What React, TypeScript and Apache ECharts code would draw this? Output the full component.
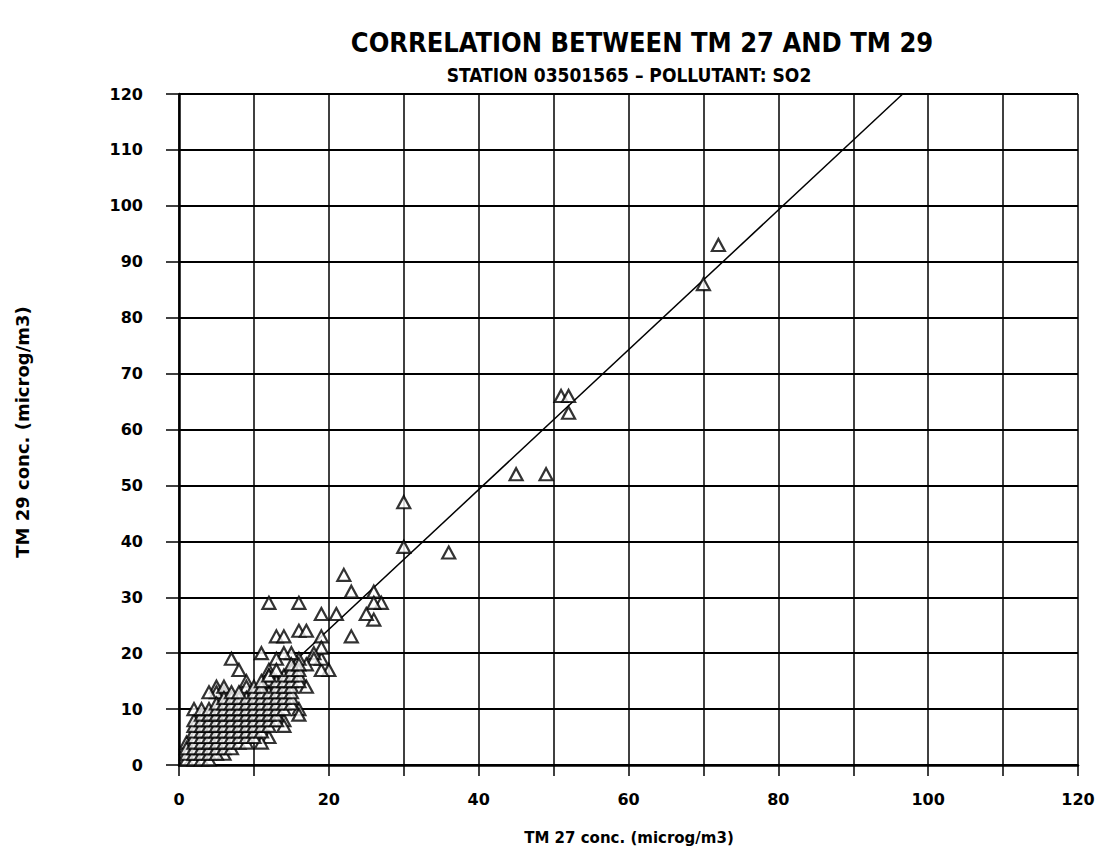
import React, { useEffect, useRef } from "react";
import * as echarts from "echarts";

// TM 27 concentrations (x) and TM 29 concentrations (y), microg/m3
const tm27: number[] = [
  72, 70, 51, 52, 52, 45, 49, 36, 30, 30, 27, 26, 26, 26, 25, 23, 22, 23, 21, 19,
  12, 16, 13, 14, 16, 17, 19, 20, 19, 19, 19, 18, 18, 17, 17, 16, 15, 14, 13, 11,
  7, 8, 12, 12, 9, 9, 5, 6, 16, 16, 14, 14, 12, 11, 6, 1, 12, 5, 4, 6,
  // y=1
  1, 2, 3, 4,
  // y=2
  1, 2, 3, 4, 5,
  // y=3
  1, 2, 3, 4, 5, 6, 7,
  // y=4
  2, 3, 4, 5, 6, 7, 8, 9,
  // y=5
  2, 3, 4, 5, 6, 7, 8, 9, 10,
  // y=6
  2, 3, 4, 5, 6, 7, 8, 9, 10, 11,
  // y=7
  2, 3, 4, 5, 6, 7, 8, 9, 10, 11, 12,
  // y=8
  2, 3, 4, 5, 6, 7, 8, 9, 10, 11, 12, 13,
  // y=9
  3, 4, 5, 6, 7, 8, 9, 10, 11, 12, 13,
  // y=10
  2, 3, 4, 5, 6, 7, 8, 9, 10, 11, 12, 13, 14,
  // y=11
  5, 6, 7, 8, 9, 10, 11, 12, 13, 14, 15,
  // y=12
  6, 7, 8, 9, 10, 11, 12, 13, 14, 15,
  // y=13
  7, 8, 10, 11, 12, 13, 14, 15,
  // y=14
  10, 11, 13, 14, 15,
  // y=15
  11, 13, 14, 15, 16,
  // y=16
  12, 14, 15, 16,
  // y=17
  13, 15, 16,
  // y=18
  15, 16,
];

const tm29: number[] = [
  93, 86, 66, 66, 63, 52, 52, 38, 47, 39, 29, 31, 29, 26, 27, 31, 34, 23, 27, 27,
  29, 29, 23, 23, 24, 24, 23, 17, 17, 19, 21, 20, 19, 18, 14, 19, 20, 20, 19, 20,
  19, 17, 17, 15, 15, 14, 14, 13, 10, 9, 8, 7, 5, 4, 2, 4, 16, 13, 13, 14,
  1, 1, 1, 1,
  2, 2, 2, 2, 2,
  3, 3, 3, 3, 3, 3, 3,
  4, 4, 4, 4, 4, 4, 4, 4,
  5, 5, 5, 5, 5, 5, 5, 5, 5,
  6, 6, 6, 6, 6, 6, 6, 6, 6, 6,
  7, 7, 7, 7, 7, 7, 7, 7, 7, 7, 7,
  8, 8, 8, 8, 8, 8, 8, 8, 8, 8, 8, 8,
  9, 9, 9, 9, 9, 9, 9, 9, 9, 9, 9,
  10, 10, 10, 10, 10, 10, 10, 10, 10, 10, 10, 10, 10,
  11, 11, 11, 11, 11, 11, 11, 11, 11, 11, 11,
  12, 12, 12, 12, 12, 12, 12, 12, 12, 12,
  13, 13, 13, 13, 13, 13, 13, 13,
  14, 14, 14, 14, 14,
  15, 15, 15, 15, 15,
  16, 16, 16, 16,
  17, 17, 17,
  18, 18,
];

// Regression line end points (TM 27, TM 29)
const fitX: number[] = [0.6, 96.6];
const fitY: number[] = [0, 120];

// Axis ranges and tick labels
const xLabelValues: number[] = [0, 20, 40, 60, 80, 100, 120];
const axisMin = 0;
const axisMax = 120;
const gridStep = 10;

const titleText = "CORRELATION BETWEEN TM 27 AND TM 29";
const subtitleText = "STATION 03501565 \u2013 POLLUTANT: SO2";
const xName = "TM 27 conc. (microg/m3)";
const yName = "TM 29 conc. (microg/m3)";

const FONT = '"DejaVu Sans", "Noto Sans", sans-serif';
const CFONT = '"DejaVu Sans Condensed", "Liberation Sans Narrow", "DejaVu Sans", sans-serif';

export default function App() {
  const ref = useRef<HTMLDivElement>(null);

  useEffect(() => {
    if (!ref.current) return;
    const chart = echarts.init(ref.current, undefined, { renderer: "svg" });
    const points = tm27.map((x, i) => [x, tm29[i]]);
    const fit = fitX.map((x, i) => [x, fitY[i]]);

    chart.setOption({
      animation: false,
      backgroundColor: "#fff",
      grid: { left: 179, right: 27, top: 94, bottom: 92 },
      xAxis: {
        type: "value",
        min: axisMin,
        max: axisMax,
        interval: gridStep,
        axisLine: { show: true, lineStyle: { color: "#000", width: 2.5 } },
        axisTick: { show: true, length: 11, lineStyle: { color: "#000", width: 1.5 } },
        splitLine: { show: true, lineStyle: { color: "#000", width: 1.5 } },
        axisLabel: {
          margin: 26,
          color: "#000",
          fontFamily: FONT,
          fontWeight: "bold",
          fontSize: 16,
          formatter: (v: number) => (xLabelValues.includes(v) ? String(v) : ""),
        },
      },
      yAxis: {
        type: "value",
        min: axisMin,
        max: axisMax,
        interval: gridStep,
        axisLine: { show: true, lineStyle: { color: "#000", width: 2.5 } },
        axisTick: { show: true, length: 13, lineStyle: { color: "#000", width: 1.5 } },
        splitLine: { show: true, lineStyle: { color: "#000", width: 2 } },
        axisLabel: {
          margin: 36,
          color: "#000",
          fontFamily: FONT,
          fontWeight: "bold",
          fontSize: 16,
        },
      },
      graphic: [
        {
          type: "text",
          x: 642,
          y: 42,
          style: {
            text: titleText,
            fill: "#000",
            font: `bold 27px ${CFONT}`,
            textAlign: "center",
            textVerticalAlign: "middle",
          },
        },
        {
          type: "text",
          x: 629,
          y: 75,
          style: {
            text: subtitleText,
            fill: "#000",
            font: `bold 19px ${CFONT}`,
            textAlign: "center",
            textVerticalAlign: "middle",
          },
        },
        {
          type: "text",
          x: 629,
          y: 838,
          style: {
            text: xName,
            fill: "#000",
            font: `bold 15px ${FONT}`,
            textAlign: "center",
            textVerticalAlign: "middle",
          },
        },
        {
          type: "text",
          x: 22,
          y: 432,
          rotation: Math.PI / 2,
          style: {
            text: yName,
            fill: "#000",
            font: `bold 18px ${FONT}`,
            textAlign: "center",
            textVerticalAlign: "middle",
          },
        },
      ],
      series: [
        {
          type: "line",
          data: fit,
          symbol: "none",
          clip: true,
          lineStyle: { color: "#000", width: 1.5 },
          z: 2,
        },
        {
          type: "scatter",
          data: points,
          symbol: "triangle",
          symbolSize: [13, 12],
          itemStyle: { color: "#fff", borderColor: "#000", borderWidth: 2.2 },
          z: 3,
        },
      ],
    });
    return () => chart.dispose();
  }, []);

  return (
    <div
      ref={ref}
      style={{ position: "fixed", left: 0, top: 0, width: 1105, height: 857, background: "#fff" }}
    />
  );
}
